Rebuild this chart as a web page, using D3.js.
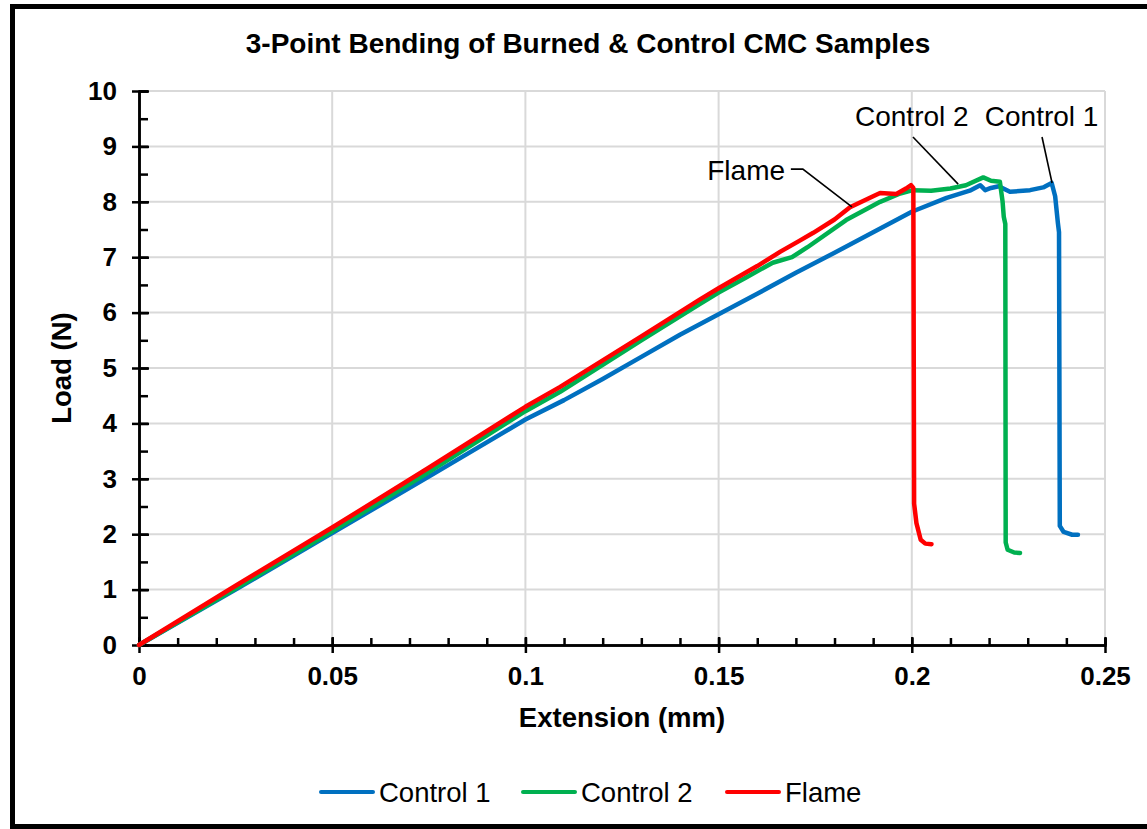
<!DOCTYPE html>
<html>
<head>
<meta charset="utf-8">
<script src="https://cdn.jsdelivr.net/npm/d3@7"></script>
<style>
html,body{margin:0;padding:0;background:#fff;}
svg{display:block;font-family:"Liberation Sans",Arial,sans-serif;}
</style>
</head>
<body>
<svg id="chart" width="1147" height="829"></svg>
<script>
// ---- data ----
const seriesNames = ["Control 1", "Control 2", "Flame"];
const seriesColors = ["#0070C0", "#00B050", "#FF0000"];

const control1 = [
  [0,0],[0.025,1.0],[0.05,2.02],[0.075,3.04],[0.1,4.07],[0.11,4.42],[0.12,4.8],
  [0.13,5.2],[0.14,5.6],[0.15,5.97],[0.16,6.34],[0.17,6.72],[0.18,7.08],[0.19,7.45],
  [0.2,7.82],[0.209,8.07],[0.215,8.2],[0.2177,8.3],[0.219,8.21],[0.2205,8.25],[0.2225,8.28],
  [0.2254,8.18],[0.2306,8.21],[0.234,8.26],[0.2362,8.34],[0.2371,8.1],[0.2378,7.62],
  [0.2381,7.45],[0.2383,2.15],[0.2393,2.04],[0.2415,1.99],[0.243,1.99]
];
const control2 = [
  [0,0],[0.025,1.02],[0.05,2.05],[0.075,3.12],[0.1,4.22],[0.109,4.57],[0.13,5.5],
  [0.145,6.15],[0.15,6.36],[0.157,6.63],[0.164,6.9],[0.169,7.0],[0.173,7.18],
  [0.183,7.67],[0.1918,8.0],[0.197,8.15],[0.2003,8.21],[0.205,8.2],[0.21,8.24],
  [0.214,8.3],[0.2185,8.44],[0.2205,8.38],[0.2228,8.36],[0.2235,8.0],[0.2238,7.73],
  [0.2242,7.6],[0.2243,1.85],[0.2248,1.72],[0.2265,1.67],[0.228,1.66]
];
const flame = [
  [0,0],[0.025,1.07],[0.05,2.12],[0.075,3.2],[0.1,4.3],[0.109,4.66],[0.13,5.57],
  [0.145,6.23],[0.15,6.44],[0.16,6.84],[0.166,7.1],[0.171,7.3],[0.1745,7.44],
  [0.18,7.68],[0.184,7.9],[0.19,8.1],[0.1918,8.16],[0.196,8.14],[0.1985,8.24],
  [0.1998,8.3],[0.2004,8.25],[0.2006,2.55],[0.2012,2.2],[0.2023,1.9],[0.2035,1.83],
  [0.2051,1.82]
];
const seriesData = [control1, control2, flame];

const xTicks = [0, 0.05, 0.1, 0.15, 0.2, 0.25];
const xTickLabels = ["0", "0.05", "0.1", "0.15", "0.2", "0.25"];
const xMinorTicks = d3.range(0, 0.2501, 0.01);
const yTicks = [0,1,2,3,4,5,6,7,8,9,10];
const yMinorTicks = d3.range(0, 10.01, 0.5);

const titleText = "3-Point Bending of Burned & Control CMC Samples";
const xTitle = "Extension (mm)";
const yTitle = "Load (N)";

// annotations: label, text anchor point, leader polyline (data units)
const annotations = [
  {label:"Flame", anchor:"end", at:[0.1672, 8.39], path:[[0.1687,8.59],[0.1718,8.59],[0.1845,7.91]]},
  {label:"Control 2", anchor:"start", at:[0.1853, 9.37], path:[[0.2003,9.17],[0.212,8.32]]},
  {label:"Control 1", anchor:"start", at:[0.2189, 9.37], path:[[0.2337,9.17],[0.2363,8.34]]}
];

// ---- layout ----
const svg = d3.select("#chart");
const W = 1147, H = 829;
const plot = {left:139, right:1105, top:91, bottom:645};

const x = d3.scaleLinear().domain([0,0.25]).range([plot.left, plot.right]);
const y = d3.scaleLinear().domain([0,10]).range([plot.bottom, plot.top]);

svg.append("rect").attr("width",W).attr("height",H).attr("fill","#fff");
// frame
svg.append("rect").attr("x",12.5).attr("y",6.5).attr("width",1200).attr("height",820)
  .attr("fill","none").attr("stroke","#000").attr("stroke-width",5);

// gridlines
const grid = svg.append("g").attr("stroke","#d9d9d9").attr("stroke-width",2);
grid.selectAll(".gx").data(xTicks.slice(1)).join("line")
  .attr("x1",d=>x(d)).attr("x2",d=>x(d)).attr("y1",plot.top).attr("y2",plot.bottom);
grid.selectAll(".gy").data(yTicks.slice(1)).join("line")
  .attr("y1",d=>y(d)).attr("y2",d=>y(d)).attr("x1",plot.left).attr("x2",plot.right);

// axes
const xMinor = d3.axisBottom(x).tickValues(xMinorTicks).tickSize(-7).tickFormat("");
const xMajor = d3.axisBottom(x).tickValues(xTicks).tickSizeInner(8).tickSizeOuter(0).tickFormat((d,i)=>xTickLabels[i]).tickPadding(14);
const yMinor = d3.axisLeft(y).tickValues(yMinorTicks).tickSize(-9).tickFormat("");
const yMajor = d3.axisLeft(y).tickValues(yTicks).tickSizeInner(7).tickSizeOuter(0).tickFormat(d3.format("d")).tickPadding(14);

function styleAxis(g){
  g.select(".domain").attr("stroke","#000").attr("stroke-width",2.5);
  g.selectAll(".tick line").attr("stroke","#000").attr("stroke-width",2.5);
  g.selectAll(".tick text").attr("fill","#000").attr("font-size",26).attr("font-weight","bold")
    .attr("font-family","'Liberation Sans',Arial,sans-serif");
}
svg.append("g").attr("transform",`translate(0,${plot.bottom})`).call(xMinor).call(styleAxis);
const gx = svg.append("g").attr("transform",`translate(0,${plot.bottom})`).call(xMajor).call(styleAxis);
gx.selectAll(".tick line").attr("y1",-8);
svg.append("g").attr("transform",`translate(${plot.left},0)`).call(yMinor).call(styleAxis);
const gy = svg.append("g").attr("transform",`translate(${plot.left},0)`).call(yMajor).call(styleAxis);
gy.selectAll(".tick line").attr("x1",10);
gy.selectAll(".tick text").attr("x",-22);

// series
const line = d3.line().x(d=>x(d[0])).y(d=>y(d[1]));
svg.append("g").selectAll("path").data(seriesData).join("path")
  .attr("d",line).attr("fill","none")
  .attr("stroke",(d,i)=>seriesColors[i]).attr("stroke-width",4.5)
  .attr("stroke-linejoin","round").attr("stroke-linecap","round");

// annotations
const ann = svg.append("g");
ann.selectAll("path").data(annotations).join("path")
  .attr("d",d=>line(d.path)).attr("fill","none").attr("stroke","#000").attr("stroke-width",1.6);
ann.selectAll("text").data(annotations).join("text")
  .attr("x",d=>x(d.at[0])).attr("y",d=>y(d.at[1]))
  .attr("text-anchor",d=>d.anchor).attr("font-size",28).attr("fill","#000")
  .text(d=>d.label);

// titles
svg.append("text").attr("x",588).attr("y",53).attr("text-anchor","middle")
  .attr("font-size",28).attr("font-weight","bold").text(titleText);
svg.append("text").attr("x",(plot.left+plot.right)/2).attr("y",727).attr("text-anchor","middle")
  .attr("font-size",27.5).attr("font-weight","bold").text(xTitle);
svg.append("text").attr("transform",`translate(71,${(plot.top+plot.bottom)/2}) rotate(-90)`)
  .attr("text-anchor","middle").attr("font-size",27.5).attr("font-weight","bold").text(yTitle);

// legend
const legendX = [321, 523, 727];
const lg = svg.append("g").selectAll("g").data(seriesNames).join("g")
  .attr("transform",(d,i)=>`translate(${legendX[i]},792)`);
lg.append("line").attr("x1",0).attr("x2",52).attr("y1",0).attr("y2",0)
  .attr("stroke",(d,i)=>seriesColors[i]).attr("stroke-width",4).attr("stroke-linecap","round");
lg.append("text").attr("x",58).attr("y",10).attr("font-size",27.5).attr("fill","#000").text(d=>d);
</script>
</body>
</html>
